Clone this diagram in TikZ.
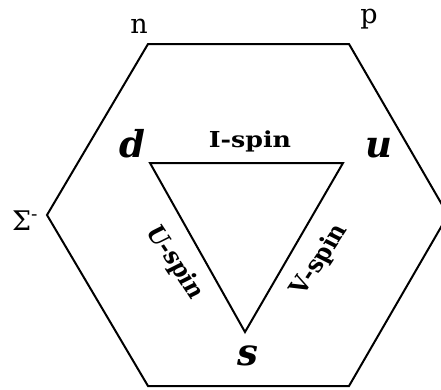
\documentclass[tikz,border=0pt]{standalone}
\usepackage{fontspec}
\setmainfont{DejaVu Serif}

\begin{document}
\begin{tikzpicture}[x=1pt, y=-1pt, line width=2pt, line join=miter,
	corner/.style={font=\fontsize{27}{30}\selectfont, inner sep=0pt},
	quark/.style={font=\fontsize{37}{40}\selectfont\bfseries\itshape, inner sep=0pt},
	spin/.style={font=\fontsize{22}{26}\selectfont\bfseries, inner sep=0pt, xscale=1.15}]
	\useasboundingbox (0,0) rectangle (441,389);
	% hexagon of the baryon octet
	\coordinate (hn) at (148,44);
	\coordinate (hp) at (349,44);
	\coordinate (hr) at (448,215);
	\coordinate (hbr) at (349,386);
	\coordinate (hbl) at (148,386);
	\coordinate (hsig) at (47,215);
	\draw (hn) -- (hp) -- (hr) -- (hbr) -- (hbl) -- (hsig) -- cycle;
	% quark triangle
	\coordinate (qd) at (150,163);
	\coordinate (qu) at (343,163);
	\coordinate (qs) at (245,332);
	\draw (qd) -- (qu) -- (qs) -- cycle;
	\node[corner, anchor=base] (n) at (139,33) {n};
	\node[corner, anchor=base] (p) at (369,23) {p};
	\node[corner, anchor=base] (sig) at (25,230) {Σ\textsuperscript{-}};
	\node[quark, anchor=base] (d) at (132,157) {d};
	\node[quark, anchor=base] (u) at (379,157) {u};
	\node[quark, anchor=base] (s) at (248,365) {s};
	\node[spin, anchor=base] (ispin) at (250,147) {I-spin};
	\node[spin, rotate=-60] (uspin) at (175,263) {U-spin};
	\node[spin, rotate=60] (vspin) at (320,260) {V-spin};
\end{tikzpicture}
\end{document}
